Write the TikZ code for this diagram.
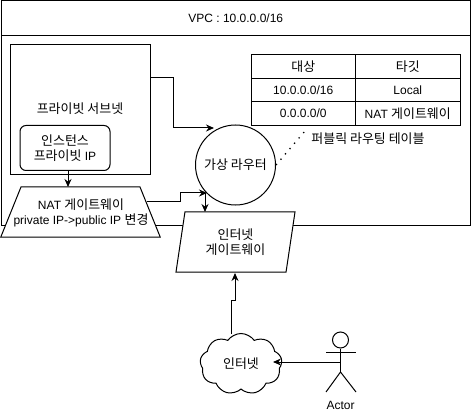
\documentclass[tikz,border=0pt]{standalone}
\usepackage{fontspec}
\setmainfont{Liberation Sans}
\newfontfamily\krfont[Scale=1.08]{Noto Sans CJK KR}
\usetikzlibrary{arrows.meta}
\usetikzlibrary{shapes.geometric,shapes.symbols}
\newcommand{\kor}[1]{{\krfont #1}}
\tikzset{
  every node/.style={font=\fontsize{12}{15}\selectfont, align=center},
  cell/.style={draw, minimum width=104.5, minimum height=23.5, inner sep=0},
  nat/.style={draw, fill=white, trapezium, trapezium left angle=68, trapezium right angle=68, text width=119, text height=25, text depth=25, inner sep=0},
  igw/.style={draw, fill=white, trapezium, trapezium left angle=71.5, trapezium right angle=108.5, trapezium stretches body=true, minimum width=119, minimum height=60, inner sep=0}
}
\begin{document}
\begin{tikzpicture}[->, >={Stealth[length=8pt,width=7pt]}, x=1pt, y=-1pt, line width=1pt]
\useasboundingbox (0,0) rectangle (471,414);

% Boxes
\node (vpc) [draw, minimum width=469.5, minimum height=224.5, inner sep=0, anchor=north west] at (0.5,0.5) {};
\node (header) [draw, minimum width=469.5, minimum height=35, inner sep=0, anchor=north west] at (0.5,0.5) {VPC : 10.0.0.0/16};
\node (subnet) [draw, minimum width=140, minimum height=130, inner sep=0] at (80,110) {};
\node (subnetlabel) at (80,109) {\kor{프라이빗 서브넷}};
\node (instance) [draw, rounded corners=6, minimum width=90, minimum height=45, inner sep=0] at (65,148) {\kor{인스턴스}\\\kor{프라이빗} IP};
\node (natgw) [nat] at (80.5,212) {};
\node (natlabel) at (81,212.5) {NAT \kor{게이트웨이}\\private IP->public IP \kor{변경}};
\node (router) [draw, circle, minimum size=80, inner sep=0] at (235.5,165) {\kor{가상 라우터}};
\node (igw) [igw] at (235.5,242) {\kor{인터넷}\\\kor{게이트웨이}};
\node (cloud) [draw, cloud, cloud puffs=9, cloud puff arc=110, aspect=1.35, minimum width=82, minimum height=61, inner sep=0] at (241,364) {\kor{인터넷}};

% Route table
\node (dest) [cell] at (303.25,66.5) {\kor{대상}};
\node (target) [cell] at (407.75,66.5) {\kor{타깃}};
\node (destlocal) [cell] at (303.25,90) {10.0.0.0/16};
\node (targetlocal) [cell] at (407.75,90) {Local};
\node (destall) [cell] at (303.25,113.5) {0.0.0.0/0};
\node (targetall) [cell] at (407.75,113.5) {NAT \kor{게이트웨이}};
\node (tablelabel) at (368,139) {\kor{퍼블릭 라우팅 테이블}};

% Actor
\node (head) [draw, circle, minimum size=16, inner sep=0] at (340.5,340) {};
\coordinate (armleft) at (326,352);
\coordinate (armright) at (356,352);
\coordinate (hip) at (340.5,372);
\coordinate (footleft) at (326,392);
\coordinate (footright) at (356,392);
\coordinate (chest) at (340.5,362);
\node (actorlabel) at (340.5,405) {Actor};
\draw[-] (head) -- (hip);
\draw[-] (armleft) -- (armright);
\draw[-] (footleft) -- (hip) -- (footright);

% Edges
\coordinate (subnetout) at (150,78);
\coordinate (routertop) at (214,128);
\coordinate (natout) at (147,202);
\coordinate (routerside) at (207,193);
\coordinate (routerdown) at (205,193);
\coordinate (igwtop) at (205,212);
\coordinate (instanceout) at (68,170.5);
\coordinate (natin) at (68,187);
\coordinate (cloudout) at (231,334);
\coordinate (igwbottom) at (235,273);
\coordinate (cloudin) at (273,362);
\coordinate (dotsend) at (305,131);
\draw (subnetout) -- (173,78) -- (173,128) -- (routertop);
\draw (natout) -- (180,202) -- (180,193) -- (routerside);
\draw (routerdown) -- (igwtop);
\draw (instanceout) -- (natin);
\draw (cloudout) -- (231,300) -- (235,300) -- (igwbottom);
\draw (chest) -- (cloudin);
\draw[-, line width=1.3pt, dash pattern=on 1.3pt off 5.7pt] (router.east) -- (dotsend);

\end{tikzpicture}
\end{document}
